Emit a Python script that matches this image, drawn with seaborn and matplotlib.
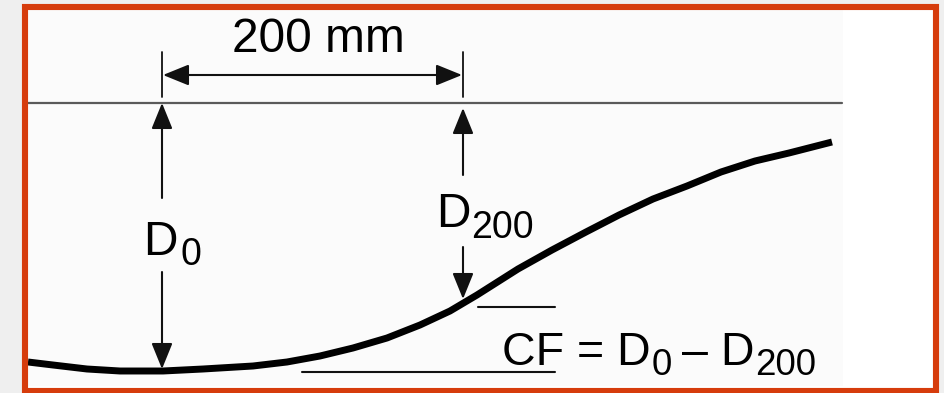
import matplotlib
matplotlib.use("Agg")
import matplotlib.pyplot as plt
import seaborn as sns
import pandas as pd
from matplotlib.patches import Rectangle

# ---- data (pixel-space diagram coordinates, y downward) ----
curve_x = [28, 53, 87, 120, 163, 203, 253, 287, 320, 353, 387, 420, 450, 477,
           518, 552, 586, 619, 653, 687, 721, 755, 789, 832]
curve_y = [362, 365, 369, 371, 371, 369, 366, 362, 356, 348, 338, 325, 311, 295,
           269, 250, 232, 215, 199, 186, 172, 161, 153, 142]

baseline_y = 103
x_d0 = 162
x_d200 = 463
span_label = "200 mm"
d0_parts = [("D", False), ("0", True)]
d200_parts = [("D", False), ("200", True)]
cf_parts = [("CF = D", False), ("0", True), ("– D", False), ("200", True)]

sns.set_theme(style="white")
plt.rcParams["font.family"] = ["Liberation Sans", "DejaVu Sans"]

fig = plt.figure(figsize=(9.45, 3.93), dpi=100, facecolor="#efefef")
ax = fig.add_axes([0, 0, 1, 1])

# deflection curve
df = pd.DataFrame({"x": curve_x, "y": curve_y})
sns.lineplot(data=df, x="x", y="y", ax=ax, color="black", lw=5.0, sort=False,
             zorder=3, solid_capstyle="butt", solid_joinstyle="round")

ax.set_xlim(0, 945)
ax.set_ylim(393, 0)
ax.axis("off")

# panel background and red frame
ax.add_patch(Rectangle((25, 7), 911, 384, facecolor="white", edgecolor="none", zorder=0))
ax.add_patch(Rectangle((28, 10), 815, 376, facecolor="#fbfbfb", edgecolor="none", zorder=0))
ax.add_patch(Rectangle((25, 7), 911, 384, facecolor="none", edgecolor="#d63c0c",
                       lw=4.4, zorder=10))

# reference surface line
ax.plot([28, 842], [baseline_y, baseline_y], color="#5a5a5a", lw=1.6, zorder=2)

ap = dict(arrowstyle="-|>,head_length=1.6,head_width=0.65", mutation_scale=10,
          lw=1.5, color="#111111", shrinkA=0, shrinkB=0)

# span dimension
for xv in (x_d0, x_d200):
    ax.plot([xv, xv], [52, 97], color="#111111", lw=1.3, zorder=2)
ax.annotate("", xy=(x_d0 + 1, 75), xytext=(312, 75), arrowprops=ap)
ax.annotate("", xy=(x_d200 - 1, 75), xytext=(312, 75), arrowprops=ap)
ax.text(318, 52, span_label, ha="center", va="baseline", fontsize=34.5, color="black")

# D0 arrows
ax.annotate("", xy=(x_d0, 103), xytext=(x_d0, 198), arrowprops=ap)
ax.annotate("", xy=(x_d0, 369), xytext=(x_d0, 272), arrowprops=ap)

# D200 arrows
ax.annotate("", xy=(x_d200, 108), xytext=(x_d200, 175), arrowprops=ap)
ax.annotate("", xy=(x_d200, 299), xytext=(x_d200, 247), arrowprops=ap)

# CF reference lines
ax.plot([478, 555], [307, 307], color="#111111", lw=1.5, zorder=2)
ax.plot([302, 555], [372, 372], color="#111111", lw=1.5, zorder=2)

renderer = fig.canvas.get_renderer()


def chained_text(x, y, parts, fs, sub_fs, drop, gaps):
    cur = x
    for i, (s, is_sub) in enumerate(parts):
        if i > 0:
            cur += gaps[i - 1]
        t = ax.text(cur, y + (drop if is_sub else 0), s, ha="left", va="baseline",
                    fontsize=sub_fs if is_sub else fs, color="black", zorder=5)
        bb = t.get_window_extent(renderer=renderer)
        cur = cur + bb.width


chained_text(143, 255, d0_parts, 34.5, 27, 10, [3])
chained_text(436, 227, d200_parts, 34.5, 27, 11, [1])
chained_text(502, 365, cf_parts, 33.5, 26.5, 10, [1, 10, 1])

fig.savefig("out.png", dpi=100, facecolor=fig.get_facecolor())
